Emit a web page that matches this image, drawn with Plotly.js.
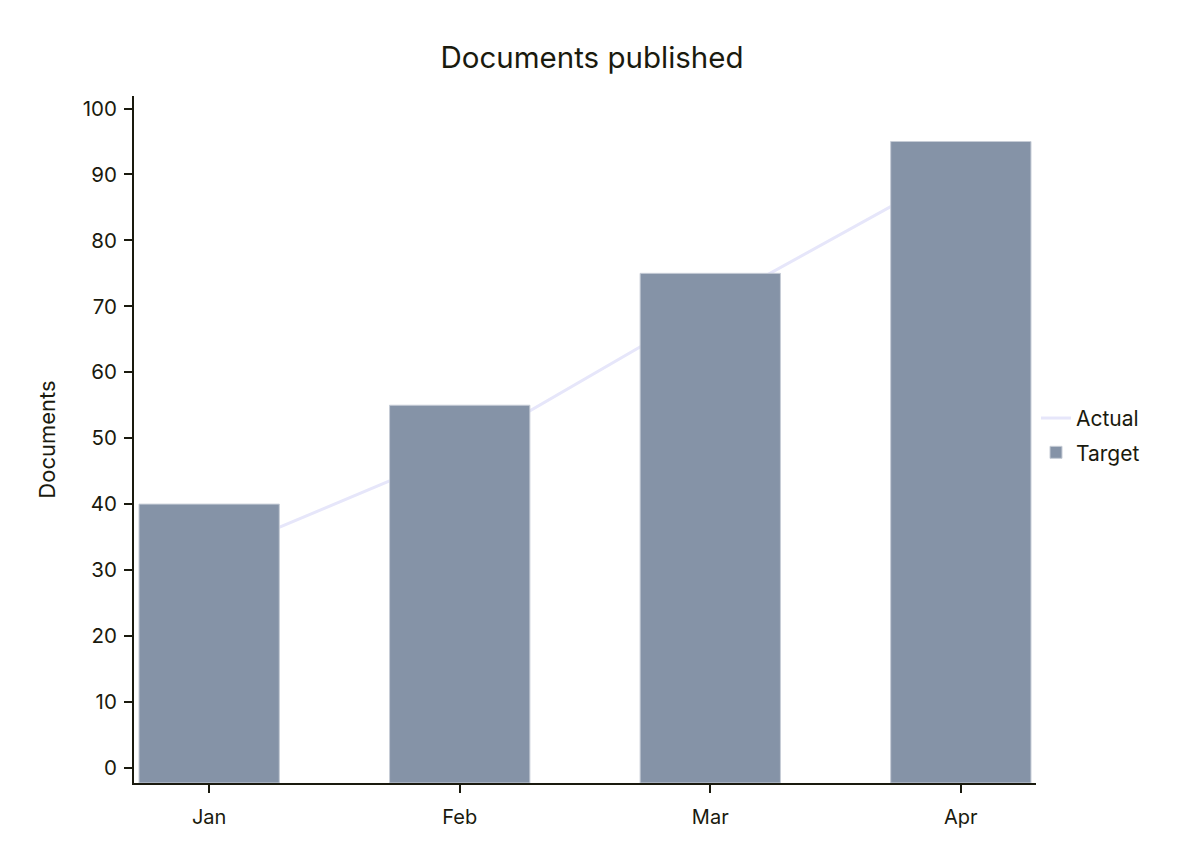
<!DOCTYPE html>
<html>
<head>
<meta charset="utf-8">
<script src="https://cdn.plot.ly/plotly-3.0.1.min.js"></script>
<style>
  html, body { margin: 0; padding: 0; background: #fff; }
  #chart { width: 1184px; height: 864px; }
</style>
</head>
<body>
<div id="chart"></div>
<script>
// Months on the x axis
var months = ['Jan', 'Feb', 'Mar', 'Apr'];

// Series values
var actual = [32, 48, 70, 91];
var target = [40, 55, 75, 95];

// Value axis range (bars start at its bottom edge)
var Y_RANGE = [-2.3, 101.9];

// Colours
var TEXT_COLOR = '#1a1a0e';
var BAR_COLOR  = '#8593a7';
var LINE_COLOR = '#e6e6fa';

// Chart data: the line lives on the main subplot, the bars on an
// overlaid copy of the y axis so they are painted over the line
var data = [{
    x: months,
    y: actual,
    type: 'scatter',
    mode: 'lines',
    name: 'Actual',
    legendgroup: 'a',
    line: {color: LINE_COLOR, width: 3}
}, {
    x: months,
    y: target.map(v => v - Y_RANGE[0]),
    base: Y_RANGE[0],
    yaxis: 'y2',
    type: 'bar',
    name: 'Target',
    legendgroup: 't',
    marker: {color: BAR_COLOR, line: {color: '#c6ccd6', width: 1}}
}];

// Shared axis look
function axisStyle() {
    return {
        showgrid: false,
        zeroline: false,
        showline: true,
        linecolor: TEXT_COLOR,
        linewidth: 2,
        ticks: 'outside',
        ticklen: 8,
        tickwidth: 2,
        tickcolor: TEXT_COLOR
    };
}

// Layout
var layout = {
    width: 1184,
    height: 864,
    paper_bgcolor: '#fff',
    plot_bgcolor: '#fff',
    font: {family: 'Inter, "Noto Sans", sans-serif', color: TEXT_COLOR, size: 20},
    title: {text: 'Documents published', font: {size: 29.5, color: TEXT_COLOR}, x: 0.5, xanchor: 'center', y: 0.933, yanchor: 'middle'},
    margin: {l: 134, r: 148, t: 96, b: 81},
    bargap: 0.44,
    showlegend: true,
    legend: {x: 1.0, xanchor: 'left', y: 0.506, yanchor: 'middle', font: {size: 21}, traceorder: 'grouped', tracegroupgap: 4},
    xaxis: Object.assign(axisStyle(), {
        range: [-0.3, 3.3],
        ticklabelstandoff: 7
    }),
    yaxis: Object.assign(axisStyle(), {
        title: {text: 'Documents', font: {size: 22}, standoff: 21},
        range: Y_RANGE,
        dtick: 10,
        tickfont: {size: 20.5},
        ticklabelstandoff: 3
    }),
    yaxis2: {
        overlaying: 'y',
        range: Y_RANGE,
        visible: false,
        showgrid: false,
        zeroline: false
    }
};

Plotly.newPlot('chart', data, layout, {displayModeBar: false});
</script>
</body>
</html>
